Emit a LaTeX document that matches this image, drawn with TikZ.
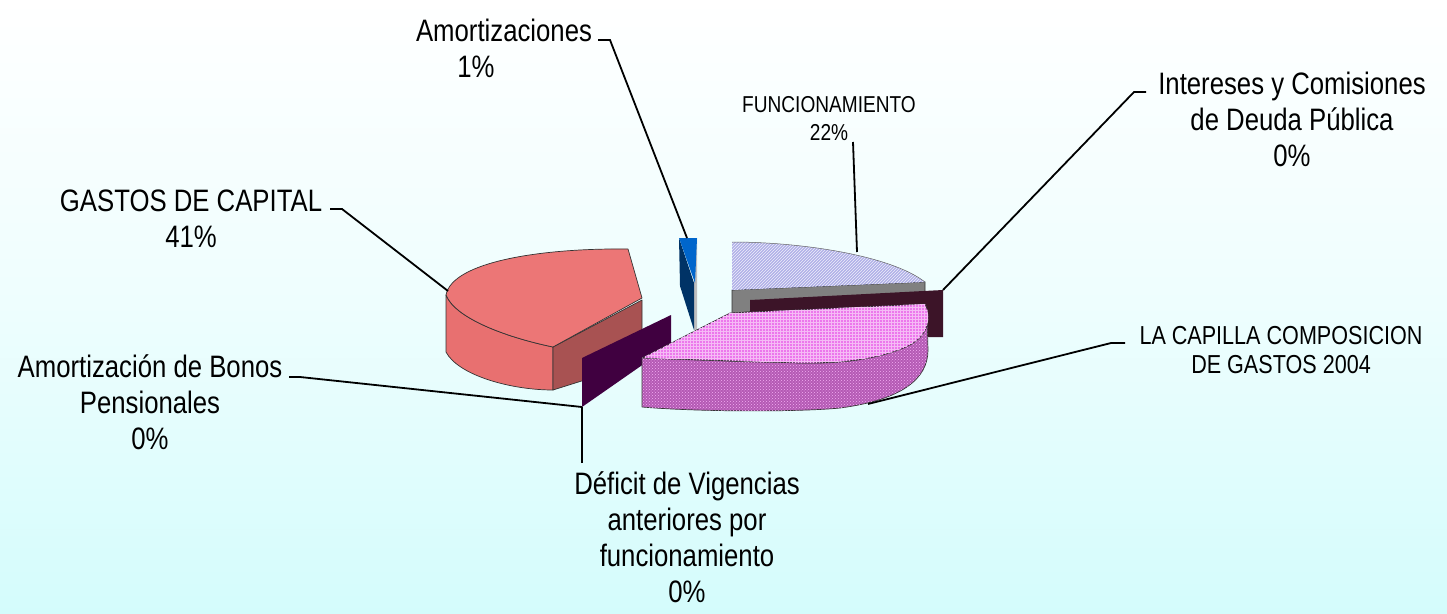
\documentclass[tikz,border=0pt]{standalone}
\usepackage{fontspec}
\setmainfont[FakeStretch=0.83]{Liberation Sans}
\usetikzlibrary{patterns}
\definecolor{bgcyan}{RGB}{212,252,252}
\definecolor{salmon}{RGB}{236,118,118}
\definecolor{salmonside}{RGB}{232,112,112}
\definecolor{salmondark}{RGB}{168,82,82}
\definecolor{plateviolet}{RGB}{64,0,64}
\definecolor{bluetop}{RGB}{0,102,204}
\definecolor{navy}{RGB}{0,51,102}
\definecolor{lavender}{RGB}{176,176,232}
\definecolor{greyside}{RGB}{128,128,128}
\definecolor{maroon}{RGB}{60,20,40}
\definecolor{pinktop}{RGB}{236,120,236}
\definecolor{pinkside}{RGB}{180,90,180}
\tikzset{
  edge/.style={draw=black!80, line width=0.7pt, line join=round},
  leader/.style={draw=black, line width=1.8pt, line join=miter},
  lbl/.style={font=\fontsize{31}{36}\selectfont, align=center, inner sep=0pt, anchor=base},
  lblsmall/.style={font=\fontsize{23}{28}\selectfont, align=center, inner sep=0pt, anchor=base},
  lblmid/.style={font=\fontsize{26}{29}\selectfont, align=center, inner sep=0pt, anchor=base},
}
\begin{document}
\begin{tikzpicture}[x=1pt,y=-1pt]
% background
\shade[top color=white, bottom color=bgcyan, middle color=white!60!bgcyan] (0,0) rectangle (1447,613);
\useasboundingbox (0,0) rectangle (1447,613);

% ---- GASTOS DE CAPITAL slice ----
\coordinate (gcTopR) at (628,249);
\coordinate (gcCen) at (642,298);
\coordinate (gcFront) at (553,347);
\coordinate (gcLeft) at (446,295);
% outer curved side
\fill[salmonside, edge] (gcLeft) -- (446,352) .. controls (458,375) and (510,390) .. (553,390)
  -- (gcFront) .. controls (505,337) and (455,318) .. (gcLeft) -- cycle;
% cut face
\fill[salmondark, edge] (gcFront) -- (642,300) -- (642,362) -- (553,390) -- cycle;
% top face
\fill[salmon, edge] (gcTopR) -- (gcCen) -- (gcFront) .. controls (505,337) and (455,318) .. (gcLeft)
  .. controls (452,262) and (540,248) .. (gcTopR) -- cycle;

% ---- Amortizacion de Bonos plate ----
\coordinate (bonosCorner) at (582,407);
\fill[plateviolet] (582,358) -- (671,315) -- (671,345) -- (bonosCorner) -- cycle;

% ---- Amortizaciones sliver ----
\coordinate (blueTop) at (687,238);
\fill[black!25] (694,246) -- (697,238) -- (697,330) -- (694,330) -- cycle;
\fill[navy] (679,238) -- (694,283) -- (694,330) -- (680,286) -- cycle;
\fill[bluetop] (679,238) -- (697,238) -- (695,283) -- cycle;

% ---- FUNCIONAMIENTO slice ----
\coordinate (fuTop) at (857,252);
\fill[greyside, edge] (732,290) -- (925,282) -- (925,300) -- (732,313) -- cycle;
\fill[lavender, postaction={pattern=north east lines, pattern color=white!80!lavender}]
  (732,242) .. controls (800,242) and (890,255) .. (925,282) -- (732,290) -- cycle;
\draw[draw=black!60, line width=0.5pt] (732,242) .. controls (800,242) and (890,255) .. (925,282);

% ---- Intereses plate ----
\coordinate (intCorner) at (943,290);
\fill[maroon] (750,300) -- (intCorner) -- (943,337) -- (927,337) -- (750,345) -- cycle;

% ---- large pink slice ----
\coordinate (pkLeft) at (642,358);
\coordinate (pkBack) at (730,313);
\coordinate (pkRight) at (925,304);
\coordinate (pkBottom) at (868,404);
% side
\fill[pinkside, postaction={pattern=crosshatch dots, pattern color=pinktop!60!white}, edge]
  (pkLeft) -- (642,407) .. controls (700,412) and (800,412) .. (840,408)
  .. controls (900,400) and (928,380) .. (928,350) -- (927,318)
  .. controls (924,345) and (880,362) .. (820,363) -- (753,362) -- cycle;
% top
\fill[pinktop, postaction={pattern=grid, pattern color=pinktop!50!white}, edge]
  (pkBack) -- (pkRight) .. controls (932,318) and (928,335) .. (910,345)
  .. controls (880,360) and (840,363) .. (800,363) -- (pkLeft) -- cycle;

% ---- labels (anchored at the baseline of their last line) ----
\node[lbl] (amort) at (504,77) {Amortizaciones\\1\%\hspace*{56pt}};
\node[lblsmall] (func) at (829,140) {FUNCIONAMIENTO\\22\%};
\node[lbl] (inter) at (1292,166) {Intereses y Comisiones\\de Deuda Pública\\0\%};
\node[lbl] (gastos) at (191,247) {GASTOS DE CAPITAL\\41\%};
\node[lbl] (bonos) at (150,449) {Amortización de Bonos\\Pensionales\\0\%};
\node[lbl] (deficit) at (687,602) {Déficit de Vigencias\\anteriores por\\funcionamiento\\0\%};
\node[lblmid] (capilla) at (1281,373) {LA CAPILLA COMPOSICION\\DE GASTOS 2004};

% ---- leader lines ----
\coordinate (amEnd) at (598,40);
\coordinate (fuEnd) at (853,142);
\coordinate (inEnd) at (1146,92);
\coordinate (gaEnd) at (330,209);
\coordinate (boEnd) at (289,377);
\coordinate (deEnd) at (582,463);
\coordinate (caEnd) at (1125,343);
\coordinate (gcLead) at (448,291);
\draw[leader] (amEnd) -- (610,40) -- (blueTop);
\draw[leader] (fuEnd) -- (fuTop);
\draw[leader] (inEnd) -- (1134,92) -- (intCorner);
\draw[leader] (gaEnd) -- (342,209) -- (gcLead);
\draw[leader] (boEnd) -- (300,377) -- (bonosCorner);
\draw[leader] (deEnd) -- (bonosCorner);
\draw[leader] (caEnd) -- (1111,343) -- (pkBottom);
\end{tikzpicture}
\end{document}
